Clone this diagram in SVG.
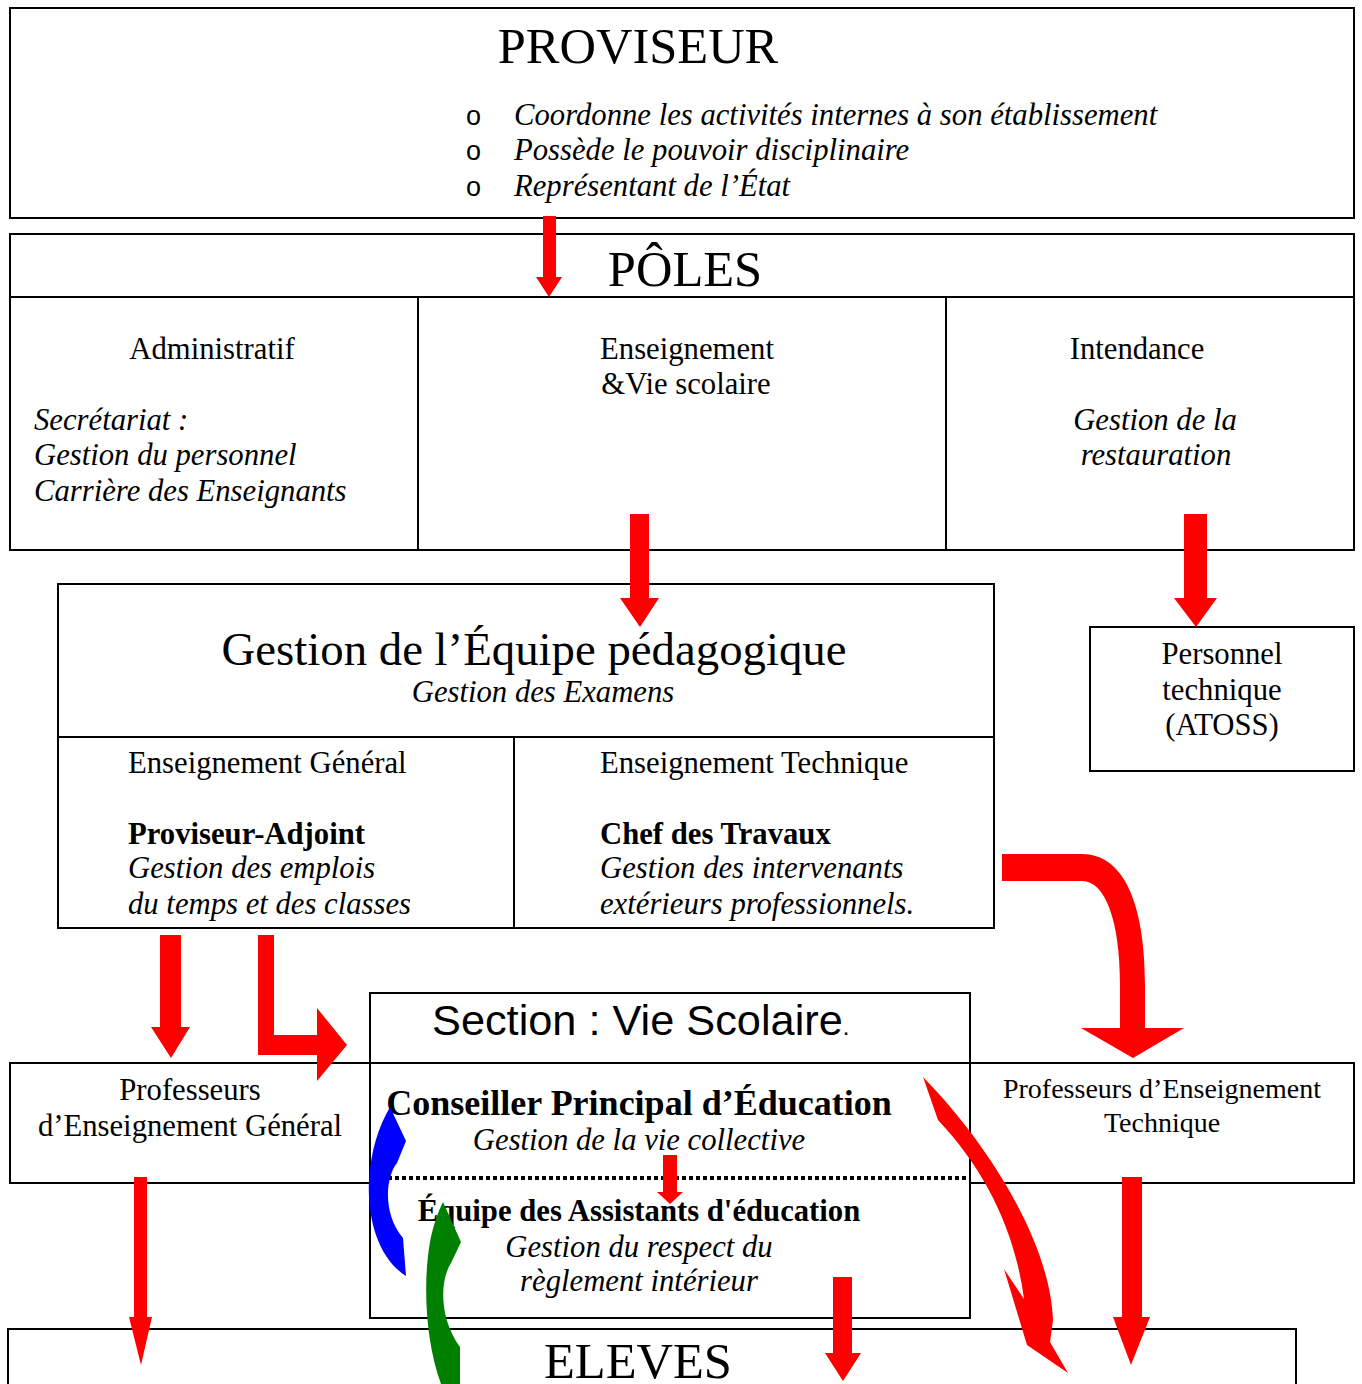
<svg xmlns="http://www.w3.org/2000/svg" width="1362" height="1384" viewBox="0 0 1362 1384">
<style>
.box{fill:none;stroke:#000;stroke-width:2}
.ln{stroke:#000;stroke-width:2}
.t{font-family:"Liberation Serif","Times New Roman",serif;font-size:30.7px;fill:#000}
.c{text-anchor:middle}
.i{font-style:italic}
.b{font-weight:bold}
.big{font-size:50.5px}
.bul{font-family:"Liberation Sans",Arial,sans-serif;font-size:27px}
.red{fill:#ff0000}
</style>
<rect width="1362" height="1384" fill="#fff"/>
<g id="proviseur">
<rect class="box" x="10" y="8" width="1344" height="210"/>
<text class="t c big" x="638" y="63">PROVISEUR</text>
<text class="bul" x="466" y="125">o</text>
<text class="bul" x="466" y="160">o</text>
<text class="bul" x="466" y="196">o</text>
<text class="t i" x="514" y="125">Coordonne les activités internes à son établissement</text>
<text class="t i" x="514" y="160">Possède le pouvoir disciplinaire</text>
<text class="t i" x="514" y="196">Représentant de l’État</text>
</g>
<g id="poles">
<rect class="box" x="10" y="234" width="1344" height="316"/>
<line class="ln" x1="10" y1="297" x2="1354" y2="297"/>
<line class="ln" x1="418" y1="297" x2="418" y2="550"/>
<line class="ln" x1="946" y1="297" x2="946" y2="550"/>
<text class="t c big" x="685" y="286">PÔLES</text>
</g>
<g id="administratif">
<text class="t c" x="212" y="359">Administratif</text>
<text class="t i" x="34" y="430">Secrétariat :</text>
<text class="t i" x="34" y="465">Gestion du personnel</text>
<text class="t i" x="34" y="501">Carrière des Enseignants</text>
</g>
<g id="enseignement">
<text class="t c" x="687" y="359">Enseignement</text>
<text class="t c" x="686" y="394">&amp;Vie scolaire</text>
</g>
<g id="intendance">
<text class="t c" x="1137" y="359">Intendance</text>
<text class="t c i" x="1155" y="430">Gestion de la</text>
<text class="t c i" x="1156" y="465">restauration</text>
</g>
<g id="equipe">
<rect class="box" x="58" y="584" width="936" height="344"/>
<line class="ln" x1="58" y1="737" x2="994" y2="737"/>
<line class="ln" x1="514" y1="737" x2="514" y2="928"/>
<text class="t c" x="534" y="665" style="font-size:46.8px">Gestion de l’Équipe pédagogique</text>
<text class="t c i" x="543" y="702">Gestion des Examens</text>
</g>
<g id="ens-general">
<text class="t" x="128" y="773">Enseignement Général</text>
<text class="t b" x="128" y="844">Proviseur-Adjoint</text>
<text class="t i" x="128" y="878">Gestion des emplois</text>
<text class="t i" x="128" y="914">du temps et des classes</text>
</g>
<g id="ens-technique">
<text class="t" x="600" y="773">Enseignement Technique</text>
<text class="t b" x="600" y="844">Chef des Travaux</text>
<text class="t i" x="600" y="878">Gestion des intervenants</text>
<text class="t i" x="600" y="914">extérieurs professionnels.</text>
</g>
<g id="personnel">
<rect class="box" x="1090" y="627" width="264" height="144"/>
<text class="t c" x="1222" y="664">Personnel</text>
<text class="t c" x="1222" y="700">technique</text>
<text class="t c" x="1222" y="735">(ATOSS)</text>
</g>
<g id="prof-general">
<rect class="box" x="10" y="1063" width="360" height="120"/>
<text class="t c" x="190" y="1100">Professeurs</text>
<text class="t c" x="190" y="1136">d’Enseignement Général</text>
</g>
<g id="prof-technique">
<rect class="box" x="970" y="1063" width="384" height="120"/>
<text class="t c" x="1162" y="1098" style="font-size:28px">Professeurs d’Enseignement</text>
<text class="t c" x="1162" y="1132" style="font-size:28px">Technique</text>
</g>
<g id="vie-scolaire">
<rect class="box" x="370" y="993" width="600" height="325"/>
<line class="ln" x1="370" y1="1063" x2="970" y2="1063"/>
<line x1="388" y1="1178" x2="970" y2="1178" stroke="#000" stroke-width="4" stroke-dasharray="4 3"/>
<text x="432" y="1035" style="font-family:'Liberation Sans',Arial,sans-serif;font-size:43.3px">Section : Vie Scolaire<tspan style="font-size:24px">.</tspan></text>
<text class="t c b" x="639" y="1115" style="font-size:36px">Conseiller Principal d’Éducation</text>
<text class="t c i" x="639" y="1150">Gestion de la vie collective</text>
<text class="t c b" x="639" y="1221">Équipe des Assistants d'éducation</text>
<text class="t c i" x="639" y="1257">Gestion du respect du</text>
<text class="t c i" x="639" y="1291">règlement intérieur</text>
</g>
<g id="eleves">
<rect class="box" x="8" y="1329" width="1288" height="80"/>
<text class="t c big" x="638" y="1378">ELEVES</text>
</g>
<g id="connectors">
<path class="red" d="M543,216 H556 V277 H562 L549,297 L536,277 H543 Z"/>
<path class="red" d="M630,514 H649 V598 H659 L640,627 L620,598 H630 Z"/>
<path class="red" d="M1184,514 H1207 V598 H1217 L1196,627 L1174,598 H1184 Z"/>
<path class="red" d="M160,935 H181 V1027 H190 L171,1058 L151,1027 H160 Z"/>
<path class="red" d="M258,935 H274 V1035 H317 V1008 L347,1045 L317,1081 V1055 H258 Z"/>
<path class="red" d="M1002,854 H1082 C1122,854 1145,900 1145,985 V1028 H1184 L1133,1058 L1081,1028 H1120 V985 C1120,920 1105,881 1082,881 H1002 Z"/>
<path class="red" d="M663,1155 H677 V1192 H683 L670,1204 L657,1192 H663 Z"/>
<path class="red" d="M833,1277 H852 V1353 H861 L843,1381 L825,1353 H833 Z"/>
<path class="red" d="M134,1177 H147 V1317 H152 L141,1365 L129,1317 H134 Z"/>
<path class="red" d="M1122,1177 H1142 V1317 H1150 L1131,1365 L1113,1317 H1122 Z"/>
<path class="red" d="M923,1077 C985,1140 1050,1240 1053,1320 L1050,1342 L1068,1373 L1027,1345 L1004,1269 L1024,1299 C1015,1230 985,1170 938,1120 Z"/>
<path fill="#0000ff" d="M390,1107 L406,1141 L397,1163 C385,1178 383,1215 403,1238 L406,1276 C378,1258 367,1218 369,1180 C371,1150 378,1128 390,1107 Z"/>
<path fill="#008000" d="M443,1202 L461,1242 L451,1263 C439,1282 440,1320 460,1347 L460,1384 L441,1384 C425,1340 423,1282 430,1242 C433,1226 438,1212 443,1202 Z"/>
</g>
</svg>
